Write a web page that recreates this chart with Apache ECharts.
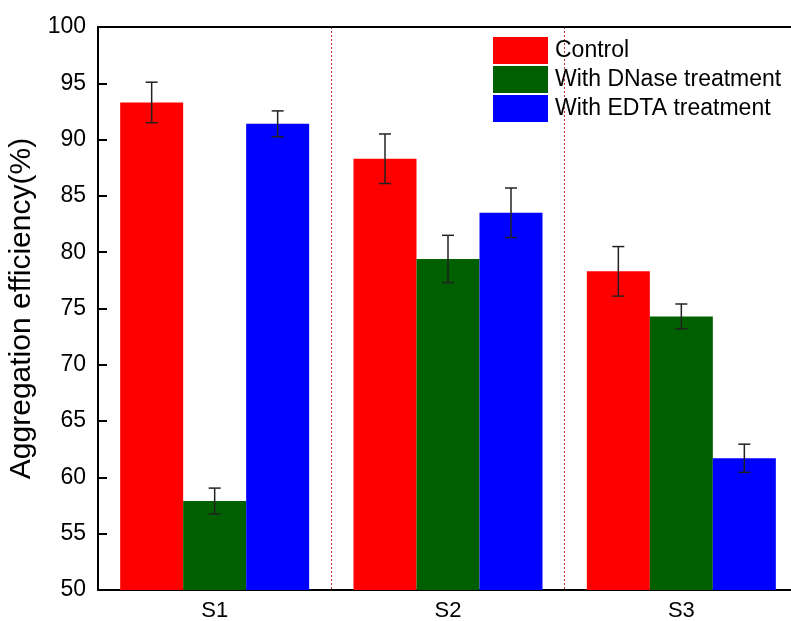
<!DOCTYPE html>
<html>
<head>
<meta charset="utf-8">
<script src="https://cdn.jsdelivr.net/npm/echarts@6/dist/echarts.min.js"></script>
<style>html,body{margin:0;padding:0;background:#fff;}#c{width:791px;height:621px;}</style>
</head>
<body>
<div id="c"></div>
<script>
const categories = ['S1', 'S2', 'S3'];
const seriesNames = ['Control', 'With DNase treatment', 'With EDTA treatment'];
const controlValues = [93.3, 88.3, 78.3];
const controlErrors = [1.8, 2.2, 2.2];
const dnaseValues = [57.9, 79.4, 74.3];
const dnaseErrors = [1.15, 2.1, 1.1];
const edtaValues = [91.4, 83.5, 61.7];
const edtaErrors = [1.15, 2.2, 1.25];
const yTicks = [50, 55, 60, 65, 70, 75, 80, 85, 90, 95, 100];

const colors = ['#ff0000', '#006000', '#0000ff'];
const values = [controlValues, dnaseValues, edtaValues];
const errors = [controlErrors, dnaseErrors, edtaErrors];
const BAR_W = 63;
const FONT = 'Liberation Sans, Arial, sans-serif';

const chart = echarts.init(document.getElementById('c'), null, {renderer: 'canvas'});

const series = [];
values.forEach((vals, si) => {
  series.push({
    name: seriesNames[si],
    type: 'bar',
    data: vals,
    barWidth: BAR_W,
    barGap: '0%',
    itemStyle: {color: colors[si]},
    emphasis: {disabled: true},
    z: 2
  });
});
values.forEach((vals, si) => {
  const offset = (si - 1) * BAR_W;
  series.push({
    type: 'custom',
    name: 'err' + si,
    z: 5,
    silent: true,
    data: vals.map((v, i) => [i, v - errors[si][i], v + errors[si][i]]),
    renderItem: function (params, api) {
      const lo = api.coord([api.value(0), api.value(1)]);
      const hi = api.coord([api.value(0), api.value(2)]);
      const x = lo[0] + offset;
      const cap = 6;
      const st = {stroke: '#222', lineWidth: 1.5};
      return {
        type: 'group',
        children: [
          {type: 'line', shape: {x1: x, y1: hi[1], x2: x, y2: lo[1]}, style: st},
          {type: 'line', shape: {x1: x - cap, y1: hi[1], x2: x + cap, y2: hi[1]}, style: st},
          {type: 'line', shape: {x1: x - cap, y1: lo[1], x2: x + cap, y2: lo[1]}, style: st}
        ]
      };
    }
  });
});

chart.setOption({
  animation: false,
  backgroundColor: '#fff',
  grid: {left: 98, top: 27, width: 700, height: 563, containLabel: false, outerBoundsMode: 'none'},
  legend: {
    data: seriesNames,
    orient: 'vertical',
    left: 488,
    top: 32,
    itemWidth: 55,
    itemHeight: 27,
    itemGap: 2,
    icon: 'rect',
    textStyle: {fontFamily: FONT, fontSize: 23, color: '#000', padding: [0, 0, 0, 2]}
  },
  xAxis: [{
    type: 'category',
    data: categories,
    position: 'bottom',
    axisLine: {lineStyle: {color: '#000', width: 2}},
    axisTick: {show: false},
    axisLabel: {fontFamily: FONT, fontSize: 22, color: '#000', margin: 10},
    splitLine: {show: true, lineStyle: {color: '#c03030', type: [2, 2], width: 1}}
  }, {
    type: 'category',
    data: categories,
    position: 'top',
    axisLine: {lineStyle: {color: '#000', width: 2}},
    axisTick: {show: false},
    axisLabel: {show: false}
  }],
  yAxis: {
    type: 'value',
    min: 50,
    max: 100,
    interval: 5,
    name: 'Aggregation efficiency(%)',
    nameLocation: 'middle',
    nameGap: 58,
    nameTextStyle: {fontFamily: FONT, fontSize: 30, color: '#000'},
    axisLine: {show: true, lineStyle: {color: '#000', width: 2}},
    axisTick: {show: true, inside: true, length: 9, lineStyle: {color: '#000', width: 2}},
    axisLabel: {fontFamily: FONT, fontSize: 23, color: '#000', margin: 12,
      formatter: v => yTicks.includes(v) ? String(v) : ''},
    splitLine: {show: false}
  },
  series: series
});
</script>
</body>
</html>
